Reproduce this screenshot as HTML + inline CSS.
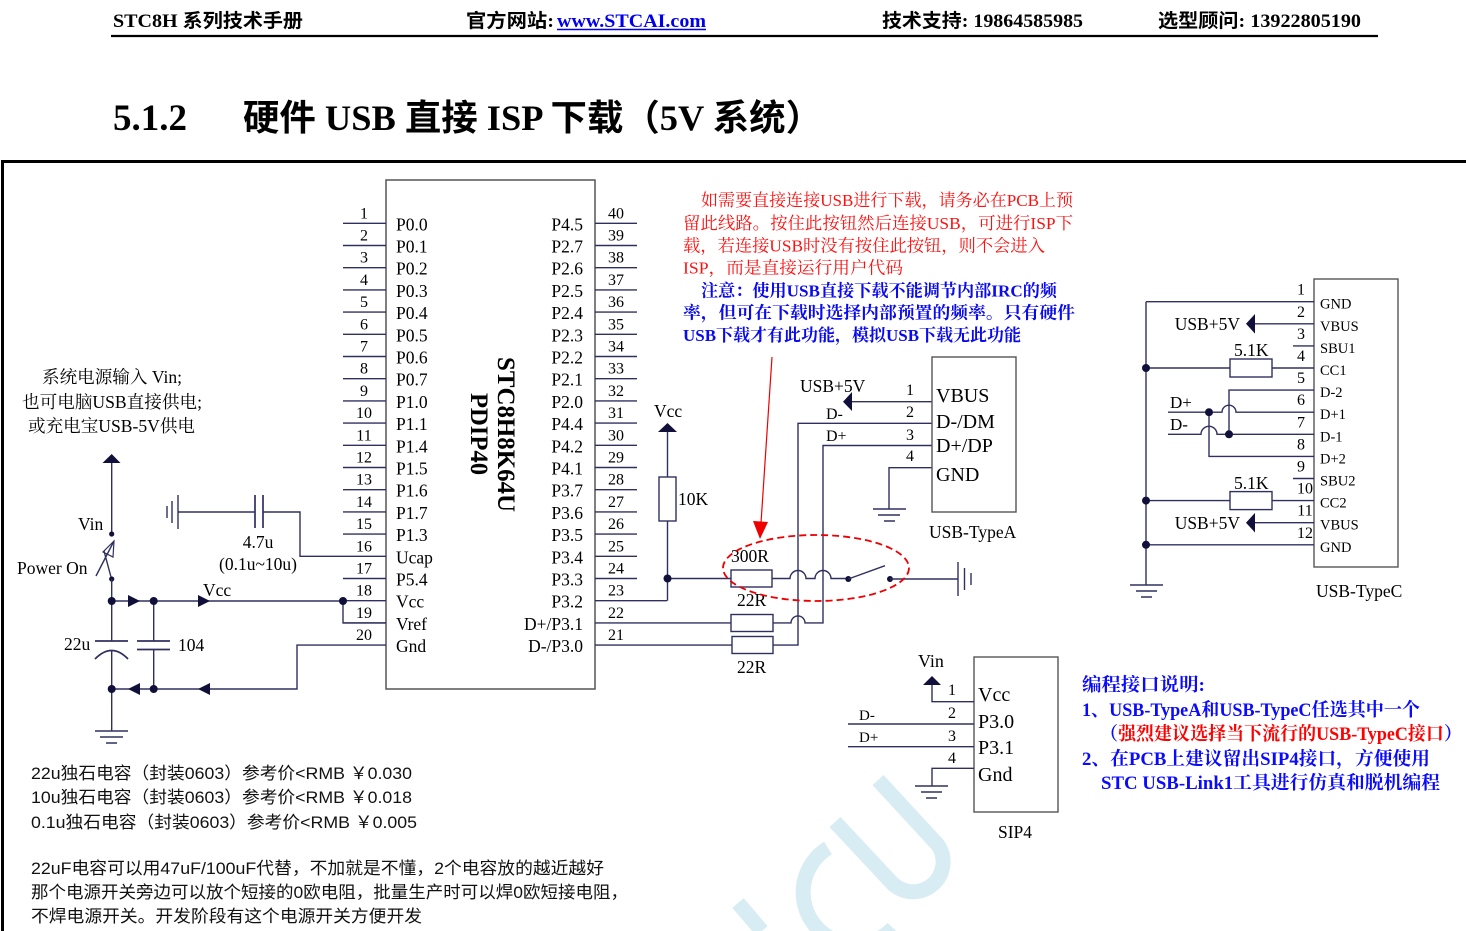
<!DOCTYPE html>
<html><head><meta charset="utf-8">
<style>
html,body{margin:0;padding:0;background:#fff;}
svg{display:block;}
.s{font-family:"Liberation Serif","Noto Serif CJK SC",serif;fill:#000;}
.h{font-family:"Liberation Serif","Noto Sans CJK SC",sans-serif;font-weight:bold;fill:#000;}
.n{font-family:"Liberation Serif","Noto Serif CJK SC",serif;font-size:16px;fill:#000;text-anchor:middle;}
.l{font-family:"Liberation Serif","Noto Serif CJK SC",serif;font-size:17.5px;fill:#000;}
.r{text-anchor:end;}
.sa{font-family:"Liberation Sans","Noto Sans CJK SC",sans-serif;font-size:17px;fill:#111;}
.w{fill:none;stroke:#303060;stroke-width:1.4;}
.d{fill:#10103a;}
</style></head><body>
<svg width="1466" height="931" viewBox="0 0 1466 931" xmlns="http://www.w3.org/2000/svg">
<rect width="1466" height="931" fill="#fff"/>

<!-- watermark -->
<g fill="none" stroke="#d8ecf3" stroke-width="15">
<path d="M878,780 L938,845 A30,30 0 0 1 893,884 L835,822"/>
<path d="M828,848 A52,52 0 1 0 893,928"/>
<path d="M738,903 L762,931"/>
</g>

<!-- header -->
<text class="h" x="113" y="27" font-size="19" textLength="190" lengthAdjust="spacingAndGlyphs">STC8H 系列技术手册</text>
<text class="h" x="466" y="27" font-size="19" textLength="88" lengthAdjust="spacingAndGlyphs">官方网站:</text>
<text class="h" x="557" y="27" font-size="19" style="fill:#0000ee" textLength="149" lengthAdjust="spacingAndGlyphs">www.STCAI.com</text>
<line x1="557" y1="29.5" x2="706" y2="29.5" stroke="#0000ee" stroke-width="1.5"/>
<text class="h" x="882" y="27" font-size="19" textLength="201" lengthAdjust="spacingAndGlyphs">技术支持: 19864585985</text>
<text class="h" x="1158" y="27" font-size="19" textLength="203" lengthAdjust="spacingAndGlyphs">选型顾问: 13922805190</text>
<line x1="111" y1="36" x2="1378" y2="36" stroke="#000" stroke-width="2.2"/>

<!-- title -->
<text class="h" x="113" y="130" font-size="37" textLength="74" lengthAdjust="spacingAndGlyphs">5.1.2</text>
<text class="h" x="243" y="130" font-size="36" textLength="579" lengthAdjust="spacingAndGlyphs">硬件 USB 直接 ISP 下载（5V 系统）</text>

<!-- frame -->
<path d="M2.5,931 V161.5 H1466" fill="none" stroke="#000" stroke-width="3"/>

<!-- chip -->
<rect x="386" y="180" width="209" height="509" fill="none" stroke="#555" stroke-width="1.5"/>
<path class="w" d="M343,223.3H386M343,245.5H386M343,267.7H386M343,289.9H386M343,312.1H386M343,334.3H386M343,356.5H386M343,378.7H386M343,400.9H386M343,423.1H386M343,445.3H386M343,467.5H386M343,489.7H386M343,511.9H386M343,534.1H386M343,556.3H386M343,578.5H386M343,600.7H386M343,622.9H386M343,645.1H386"/>
<path class="w" d="M595,223.3H637M595,245.5H637M595,267.7H637M595,289.9H637M595,312.1H637M595,334.3H637M595,356.5H637M595,378.7H637M595,400.9H637M595,423.1H637M595,445.3H637M595,467.5H637M595,489.7H637M595,511.9H637M595,534.1H637M595,556.3H637M595,578.5H637M595,600.7H667M595,622.9H731M595,645.1H732"/>

<text class="n" x="364" y="218.3">1</text><text class="n" x="364" y="240.5">2</text><text class="n" x="364" y="262.7">3</text><text class="n" x="364" y="284.9">4</text><text class="n" x="364" y="307.1">5</text><text class="n" x="364" y="329.3">6</text><text class="n" x="364" y="351.5">7</text><text class="n" x="364" y="373.7">8</text><text class="n" x="364" y="395.9">9</text><text class="n" x="364" y="418.1">10</text><text class="n" x="364" y="440.3">11</text><text class="n" x="364" y="462.5">12</text><text class="n" x="364" y="484.7">13</text><text class="n" x="364" y="506.9">14</text><text class="n" x="364" y="529.1">15</text><text class="n" x="364" y="551.3">16</text><text class="n" x="364" y="573.5">17</text><text class="n" x="364" y="595.7">18</text><text class="n" x="364" y="617.9">19</text><text class="n" x="364" y="640.1">20</text>

<text class="n" x="616" y="218.3">40</text><text class="n" x="616" y="240.5">39</text><text class="n" x="616" y="262.7">38</text><text class="n" x="616" y="284.9">37</text><text class="n" x="616" y="307.1">36</text><text class="n" x="616" y="329.3">35</text><text class="n" x="616" y="351.5">34</text><text class="n" x="616" y="373.7">33</text><text class="n" x="616" y="395.9">32</text><text class="n" x="616" y="418.1">31</text><text class="n" x="616" y="440.3">30</text><text class="n" x="616" y="462.5">29</text><text class="n" x="616" y="484.7">28</text><text class="n" x="616" y="506.9">27</text><text class="n" x="616" y="529.1">26</text><text class="n" x="616" y="551.3">25</text><text class="n" x="616" y="573.5">24</text><text class="n" x="616" y="595.7">23</text><text class="n" x="616" y="617.9">22</text><text class="n" x="616" y="640.1">21</text>

<text class="l" x="396" y="230.3">P0.0</text><text class="l" x="396" y="252.5">P0.1</text><text class="l" x="396" y="274.7">P0.2</text><text class="l" x="396" y="296.9">P0.3</text><text class="l" x="396" y="319.1">P0.4</text><text class="l" x="396" y="341.3">P0.5</text><text class="l" x="396" y="363.5">P0.6</text><text class="l" x="396" y="385.7">P0.7</text><text class="l" x="396" y="407.9">P1.0</text><text class="l" x="396" y="430.1">P1.1</text><text class="l" x="396" y="452.3">P1.4</text><text class="l" x="396" y="474.5">P1.5</text><text class="l" x="396" y="496.7">P1.6</text><text class="l" x="396" y="518.9">P1.7</text><text class="l" x="396" y="541.1">P1.3</text><text class="l" x="396" y="563.3">Ucap</text><text class="l" x="396" y="585.5">P5.4</text><text class="l" x="396" y="607.7">Vcc</text><text class="l" x="396" y="629.9">Vref</text><text class="l" x="396" y="652.1">Gnd</text>

<text class="l r" x="583" y="230.3">P4.5</text><text class="l r" x="583" y="252.5">P2.7</text><text class="l r" x="583" y="274.7">P2.6</text><text class="l r" x="583" y="296.9">P2.5</text><text class="l r" x="583" y="319.1">P2.4</text><text class="l r" x="583" y="341.3">P2.3</text><text class="l r" x="583" y="363.5">P2.2</text><text class="l r" x="583" y="385.7">P2.1</text><text class="l r" x="583" y="407.9">P2.0</text><text class="l r" x="583" y="430.1">P4.4</text><text class="l r" x="583" y="452.3">P4.2</text><text class="l r" x="583" y="474.5">P4.1</text><text class="l r" x="583" y="496.7">P3.7</text><text class="l r" x="583" y="518.9">P3.6</text><text class="l r" x="583" y="541.1">P3.5</text><text class="l r" x="583" y="563.3">P3.4</text><text class="l r" x="583" y="585.5">P3.3</text><text class="l r" x="583" y="607.7">P3.2</text><text class="l r" x="583" y="629.9">D+/P3.1</text><text class="l r" x="583" y="652.1">D-/P3.0</text>

<text class="s" transform="translate(498,357) rotate(90)" font-size="25" font-weight="bold" textLength="155" lengthAdjust="spacingAndGlyphs">STC8H8K64U</text>
<text class="s" transform="translate(471,393) rotate(90)" font-size="25" font-weight="bold" textLength="82" lengthAdjust="spacingAndGlyphs">PDIP40</text>

<!-- left power circuit -->
<text class="l" x="42" y="383" textLength="140" lengthAdjust="spacingAndGlyphs">系统电源输入 Vin;</text>
<text class="l" x="22" y="408" textLength="180" lengthAdjust="spacingAndGlyphs">也可电脑USB直接供电;</text>
<text class="l" x="28" y="432" textLength="167" lengthAdjust="spacingAndGlyphs">或充电宝USB-5V供电</text>

<polygon class="d" points="102.5,463 120.5,463 111.7,454"/>
<path class="w" d="M111.7,463V534"/>
<circle class="d" cx="111.7" cy="534" r="2.6"/>
<circle class="d" cx="111.7" cy="579" r="2.6"/>
<path class="w" d="M96,576 L114,541 M104,551 L111,577"/>
<polygon points="114,541 103,552 113,557" fill="none" stroke="#303060" stroke-width="1.2"/>
<path class="w" d="M111.7,579V641 M111.7,650V731 M153.7,601V641 M153.7,649.5V689 M111.7,601H343 M343,601V622.9H386 M111.7,689H297V645.1H343"/>
<path class="w" style="stroke-width:1.7" d="M95,641H128 M137,641H170 M137,649.5H170"/>
<path class="w" style="stroke-width:1.7" d="M95,659 Q111.7,642 128,659"/>
<path class="w" d="M95,731H128 M100,737H123 M106,743H117"/>
<polygon class="d" points="128,595 128,607 140,601"/>
<polygon class="d" points="198,595 198,607 210,601"/>
<polygon class="d" points="140,683 140,695 128,689"/>
<polygon class="d" points="210,683 210,695 198,689"/>
<circle class="d" cx="111.7" cy="601" r="4"/>
<circle class="d" cx="153.7" cy="601" r="4"/>
<circle class="d" cx="343" cy="601" r="4"/>
<circle class="d" cx="111.7" cy="689" r="4"/>
<circle class="d" cx="153.7" cy="689" r="4"/>
<path class="w" d="M178,495V529 M172,501V523 M167,506V518 M178,512H255 M263,512H300V556.3H343"/>
<path class="w" style="stroke-width:1.7" d="M255,495V528 M263,495V528"/>

<text class="l" x="78" y="530">Vin</text>
<text class="l" x="17" y="574">Power On</text>
<text class="l" x="203" y="596">Vcc</text>
<text class="l" x="64" y="650">22u</text>
<text class="l" x="178" y="651">104</text>
<text class="l" x="258" y="548" text-anchor="middle">4.7u</text>
<text class="l" x="258" y="570" text-anchor="middle">(0.1u~10u)</text>

<!-- Vcc pullup / USB-A -->
<polygon class="d" points="658,432 677,432 667.5,423"/>
<path class="w" d="M667.5,432V477 M667.5,521V600.7 M667.5,578.5H731"/>
<rect x="659" y="477" width="17" height="44" fill="#fff" stroke="#303060" stroke-width="1.4"/>
<circle class="d" cx="667.5" cy="578.5" r="4"/>
<text class="l" x="654" y="417">Vcc</text>
<text class="l" x="678" y="505">10K</text>

<rect x="731" y="570" width="41" height="17" fill="#fff" stroke="#303060" stroke-width="1.4"/>
<rect x="731" y="614.5" width="42" height="17" fill="#fff" stroke="#303060" stroke-width="1.4"/>
<rect x="732" y="636.5" width="41" height="17" fill="#fff" stroke="#303060" stroke-width="1.4"/>
<text class="l" x="731" y="562">300R</text>
<text class="l" x="737" y="606">22R</text>
<text class="l" x="737" y="673">22R</text>

<path class="w" d="M772,578.5H790 A8,8 0 0 1 806,578.5 H815 A8,8 0 0 1 831,578.5 H848"/>
<circle class="d" cx="848.3" cy="579" r="3"/>
<circle class="d" cx="890" cy="579" r="3"/>
<path class="w" d="M848.3,579 L885,565.7 M890,579H958 M958,562V596 M964.5,568V590 M971,573V585"/>
<path class="w" d="M773,622.9H791 A7,7 0 0 1 805,622.9 H823V445.5H932"/>
<path class="w" d="M773,645.1H798V423.3H932"/>
<path class="w" d="M932,401.7H852"/>
<polygon class="d" points="852,392 852,411 843,401.7"/>
<path class="w" d="M932,467.7H889V509 M873,509H906 M878,515H900 M884,521H895"/>
<rect x="932" y="357" width="84" height="155" fill="none" stroke="#555" stroke-width="1.4"/>
<text class="s" x="936" y="402" font-size="20">VBUS</text>
<text class="s" x="936" y="428" font-size="20">D-/DM</text>
<text class="s" x="936" y="452" font-size="20">D+/DP</text>
<text class="s" x="936" y="481" font-size="20">GND</text>
<text class="n" x="910" y="395">1</text>
<text class="n" x="910" y="417">2</text>
<text class="n" x="910" y="440">3</text>
<text class="n" x="910" y="461">4</text>
<text class="l" x="800" y="392">USB+5V</text>
<text class="s" x="826" y="419" font-size="16">D-</text>
<text class="s" x="826" y="441" font-size="16">D+</text>
<text class="l" x="929" y="538">USB-TypeA</text>

<!-- red highlight -->
<ellipse cx="816" cy="568" rx="93" ry="33" fill="none" stroke="#ee0000" stroke-width="1.8" stroke-dasharray="7,4"/>
<line x1="772" y1="357" x2="761" y2="523" stroke="#ee0000" stroke-width="1.2"/>
<polygon points="753,521 768,522 760,539" fill="#ee0000"/>

<!-- notes -->
<g class="s" font-size="17">
<text x="701" y="206" style="fill:#ff1010" textLength="372" lengthAdjust="spacingAndGlyphs">如需要直接连接USB进行下载，请务必在PCB上预</text>
<text x="683" y="229" style="fill:#ff1010" textLength="390" lengthAdjust="spacingAndGlyphs">留此线路。按住此按钮然后连接USB，可进行ISP下</text>
<text x="683" y="251.5" style="fill:#ff1010" textLength="362" lengthAdjust="spacingAndGlyphs">载，若连接USB时没有按住此按钮，则不会进入</text>
<text x="683" y="273.5" style="fill:#ff1010" textLength="220" lengthAdjust="spacingAndGlyphs">ISP，而是直接运行用户代码</text>
</g>
<g class="s" font-size="17" font-weight="bold">
<text x="701" y="296.5" style="fill:#0a0aee" textLength="356" lengthAdjust="spacingAndGlyphs">注意：使用USB直接下载不能调节内部IRC的频</text>
<text x="683" y="318.5" style="fill:#0a0aee" textLength="392" lengthAdjust="spacingAndGlyphs">率，但可在下载时选择内部预置的频率。只有硬件</text>
<text x="683" y="341" style="fill:#0a0aee" textLength="338" lengthAdjust="spacingAndGlyphs">USB下载才有此功能，模拟USB下载无此功能</text>
</g>

<!-- USB Type-C -->
<rect x="1314" y="279" width="84" height="288" fill="none" stroke="#555" stroke-width="1.4"/>
<path class="w" d="M1146,301.7H1314 M1146,301.7V585 M1130,585H1163 M1136,591H1157 M1141,597H1152"/>
<path class="w" d="M1314,323.8H1255 M1293,345.9H1314 M1146,368H1230 M1272,368H1314 M1314,390.1H1229V434.3"/>
<path class="w" d="M1168,412.2H1222 A7,7 0 0 1 1236,412.2 H1314 M1209,412.2V456.4H1314"/>
<path class="w" d="M1168,434.3H1201 A8,8 0 0 1 1217,434.3 H1314"/>
<path class="w" d="M1293,478.5H1314 M1146,500.6H1230 M1272,500.6H1314 M1314,522.7H1255 M1146,544.8H1314"/>
<polygon class="d" points="1255,314 1255,333.6 1246,323.8"/>
<polygon class="d" points="1255,512.9 1255,532.5 1246,522.7"/>
<rect x="1230" y="359" width="42" height="18" fill="#fff" stroke="#303060" stroke-width="1.4"/>
<rect x="1230" y="491.6" width="42" height="18" fill="#fff" stroke="#303060" stroke-width="1.4"/>
<circle class="d" cx="1146" cy="368" r="4"/>
<circle class="d" cx="1146" cy="500.6" r="4"/>
<circle class="d" cx="1146" cy="544.8" r="4"/>
<circle class="d" cx="1209" cy="412.2" r="4"/>
<circle class="d" cx="1229" cy="434.3" r="4"/>
<text class="n" x="1301" y="294.7">1</text><text class="n" x="1301" y="316.8">2</text><text class="n" x="1301" y="338.9">3</text><text class="n" x="1301" y="361">4</text><text class="n" x="1301" y="383.1">5</text><text class="n" x="1301" y="405.2">6</text><text class="n" x="1301" y="427.3">7</text><text class="n" x="1301" y="449.4">8</text><text class="n" x="1301" y="471.5">9</text><text class="n" x="1305" y="493.6">10</text><text class="n" x="1305" y="515.7">11</text><text class="n" x="1305" y="537.8">12</text>
<g class="s" font-size="14.5">
<text x="1320" y="308.7">GND</text><text x="1320" y="330.8">VBUS</text><text x="1320" y="352.9">SBU1</text><text x="1320" y="375">CC1</text><text x="1320" y="397.1">D-2</text><text x="1320" y="419.2">D+1</text><text x="1320" y="441.3">D-1</text><text x="1320" y="463.4">D+2</text><text x="1320" y="485.5">SBU2</text><text x="1320" y="507.6">CC2</text><text x="1320" y="529.7">VBUS</text><text x="1320" y="551.8">GND</text>
</g>
<text class="l r" x="1240" y="330">USB+5V</text>
<text class="l r" x="1240" y="529">USB+5V</text>
<text class="l" x="1234" y="356">5.1K</text>
<text class="l" x="1234" y="489">5.1K</text>
<text class="s" x="1170" y="408" font-size="17">D+</text>
<text class="s" x="1170" y="430" font-size="17">D-</text>
<text class="l" x="1316" y="597">USB-TypeC</text>

<!-- SIP4 -->
<rect x="974" y="657" width="84" height="155" fill="none" stroke="#555" stroke-width="1.4"/>
<polygon class="d" points="923,685 941,685 932,676"/>
<path class="w" d="M932,685V701.7H974 M848,724H974 M848,746.7H974 M974,768.3H932V786 M915,786H948 M921,792H942 M926,798H937"/>
<text class="s" x="918" y="667" font-size="18">Vin</text>
<text class="n" x="952" y="695">1</text>
<text class="n" x="952" y="718">2</text>
<text class="n" x="952" y="741">3</text>
<text class="n" x="952" y="763">4</text>
<text class="s" x="978" y="701" font-size="20">Vcc</text>
<text class="s" x="978" y="728" font-size="20">P3.0</text>
<text class="s" x="978" y="754" font-size="20">P3.1</text>
<text class="s" x="978" y="781" font-size="20">Gnd</text>
<text class="s" x="859" y="720" font-size="15">D-</text>
<text class="s" x="859" y="742" font-size="15">D+</text>
<text class="l" x="1015" y="838" text-anchor="middle">SIP4</text>

<!-- programming notes -->
<g class="s" font-size="18.5" font-weight="bold">
<text x="1082" y="691" style="fill:#0a0aff" textLength="123" lengthAdjust="spacingAndGlyphs">编程接口说明:</text>
<text x="1082" y="716" style="fill:#0a0aff" textLength="338" lengthAdjust="spacingAndGlyphs">1、USB-TypeA和USB-TypeC任选其中一个</text>
<text x="1100" y="740" style="fill:#0a0aff" textLength="362" lengthAdjust="spacingAndGlyphs">（<tspan style="fill:#ff0000">强烈建议选择当下流行的USB-TypeC接口</tspan>）</text>
<text x="1082" y="765" style="fill:#0a0aff" textLength="348" lengthAdjust="spacingAndGlyphs">2、在PCB上建议留出SIP4接口，方便使用</text>
<text x="1101" y="789" style="fill:#0a0aff" textLength="339" lengthAdjust="spacingAndGlyphs">STC USB-Link1工具进行仿真和脱机编程</text>
</g>

<!-- bottom text -->
<text class="sa" x="31" y="779" textLength="381" lengthAdjust="spacingAndGlyphs">22u独石电容（封装0603）参考价&lt;RMB ￥0.030</text>
<text class="sa" x="31" y="803" textLength="381" lengthAdjust="spacingAndGlyphs">10u独石电容（封装0603）参考价&lt;RMB ￥0.018</text>
<text class="sa" x="31" y="828" textLength="386" lengthAdjust="spacingAndGlyphs">0.1u独石电容（封装0603）参考价&lt;RMB ￥0.005</text>
<text class="sa" x="31" y="874" textLength="573" lengthAdjust="spacingAndGlyphs">22uF电容可以用47uF/100uF代替，不加就是不懂，2个电容放的越近越好</text>
<text class="sa" x="31" y="898" textLength="597" lengthAdjust="spacingAndGlyphs">那个电源开关旁边可以放个短接的0欧电阻，批量生产时可以焊0欧短接电阻，</text>
<text class="sa" x="31" y="922" textLength="391" lengthAdjust="spacingAndGlyphs">不焊电源开关。开发阶段有这个电源开关方便开发</text>
</svg>
</body></html>
